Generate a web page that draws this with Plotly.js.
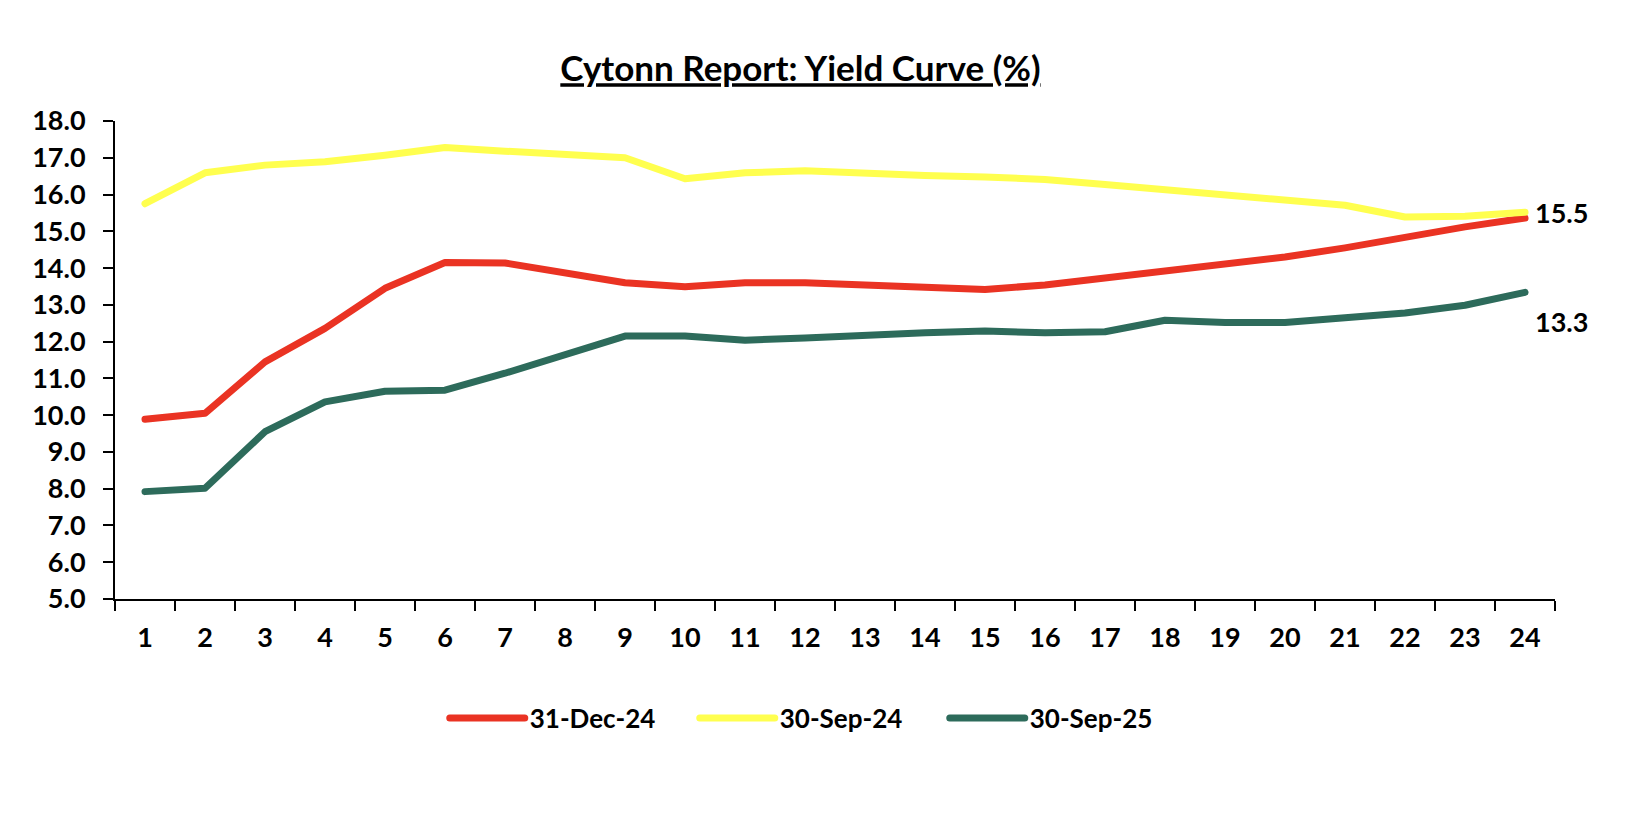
<!DOCTYPE html>
<html>
<head>
<meta charset="utf-8">
<script src="https://cdn.plot.ly/plotly-3.0.1.min.js"></script>
<style>
  html, body { margin: 0; padding: 0; background: #fff; }
  #chart { width: 1648px; height: 814px; }
  .js-line { stroke-linecap: round; stroke-linejoin: round; }
</style>
</head>
<body>
<div id="chart"></div>
<script>
// Tenor (years) categories
const tenors = ["1","2","3","4","5","6","7","8","9","10","11","12","13","14","15","16","17","18","19","20","21","22","23","24"];

// Series values (%)
const dec24 = [9.89, 10.05, 11.45, 12.36, 13.45, 14.15, 14.14, 13.87, 13.60, 13.49, 13.60, 13.60,
               13.55, 13.49, 13.42, 13.54, 13.72, 13.92, 14.11, 14.30, 14.55, 14.85, 15.12, 15.36];
const sep24 = [15.75, 16.59, 16.80, 16.89, 17.07, 17.28, 17.18, 17.10, 17.00, 16.43, 16.59, 16.65,
               16.57, 16.52, 16.48, 16.41, 16.27, 16.12, 15.98, 15.86, 15.71, 15.39, 15.41, 15.52];
const sep25 = [7.92, 8.01, 9.55, 10.36, 10.65, 10.68, 11.14, 11.63, 12.15, 12.15, 12.04, 12.10,
               12.18, 12.24, 12.29, 12.24, 12.27, 12.58, 12.52, 12.52, 12.65, 12.78, 12.99, 13.34];

const seriesNames = ["31-Dec-24", "30-Sep-24", "30-Sep-25"];
const chartTitle = "Cytonn Report: Yield Curve (%)";

const FONT = "Lato, 'Open Sans', sans-serif";
const last = tenors.length - 1;

const traces = [
  { x: tenors, y: dec24, name: seriesNames[0], type: "scatter", mode: "lines",
    line: { color: "#EA3323", width: 7 } },
  { x: tenors, y: sep24, name: seriesNames[1], type: "scatter", mode: "lines",
    line: { color: "#FFFF4F", width: 7 } },
  { x: tenors, y: sep25, name: seriesNames[2], type: "scatter", mode: "lines",
    line: { color: "#2D6B5B", width: 7 } }
];

const layout = {
  width: 1648, height: 814,
  paper_bgcolor: "#fff", plot_bgcolor: "#fff",
  margin: { l: 115, r: 93, t: 121, b: 215 },
  font: { family: FONT, color: "#000", size: 27, weight: "bold" },
  title: {
    text: "<b><u>" + chartTitle + "</u></b>",
    font: { family: FONT, size: 35, color: "#000" },
    x: 0.476, xanchor: "center", xref: "paper",
    y: 1 - 69 / 814, yanchor: "middle", yref: "container"
  },
  showlegend: true,
  legend: {
    orientation: "h", x: 0.229, xanchor: "left", y: -0.249, yanchor: "middle",
    font: { family: FONT, size: 26, color: "#000", weight: "bold" },
    itemwidth: 75, entrywidth: 160, traceorder: "normal"
  },
  xaxis: {
    type: "category", tickson: "boundaries",
    showline: true, linecolor: "#000", linewidth: 2,
    ticks: "outside", ticklen: 10, tickwidth: 2, tickcolor: "#000",
    showgrid: false, zeroline: false,
    ticklabelstandoff: 14,
    tickfont: { family: FONT, size: 27, color: "#000", weight: "bold" },
    range: [-0.5, 23.5], fixedrange: true
  },
  yaxis: {
    range: [5, 18], dtick: 1, tick0: 5, tickformat: ".1f",
    showline: true, linecolor: "#000", linewidth: 2,
    ticks: "outside", ticklen: 10, tickwidth: 2, tickcolor: "#000",
    showgrid: false, zeroline: false,
    ticklabelstandoff: 12,
    tickfont: { family: FONT, size: 27, color: "#000", weight: "bold" },
    fixedrange: true
  },
  annotations: [
    { x: last, y: sep24[last], xref: "x", yref: "y",
      text: "<b>" + sep24[last].toFixed(1) + "</b>", showarrow: false,
      xanchor: "left", yanchor: "middle", xshift: 8, yshift: 0,
      font: { family: FONT, size: 27, color: "#000" } },
    { x: last, y: sep25[last], xref: "x", yref: "y",
      text: "<b>" + sep25[last].toFixed(1) + "</b>", showarrow: false,
      xanchor: "left", yanchor: "middle", xshift: 8, yshift: -29,
      font: { family: FONT, size: 27, color: "#000" } }
  ]
};

Plotly.newPlot("chart", traces, layout, { displayModeBar: false, staticPlot: true });
</script>
</body>
</html>
